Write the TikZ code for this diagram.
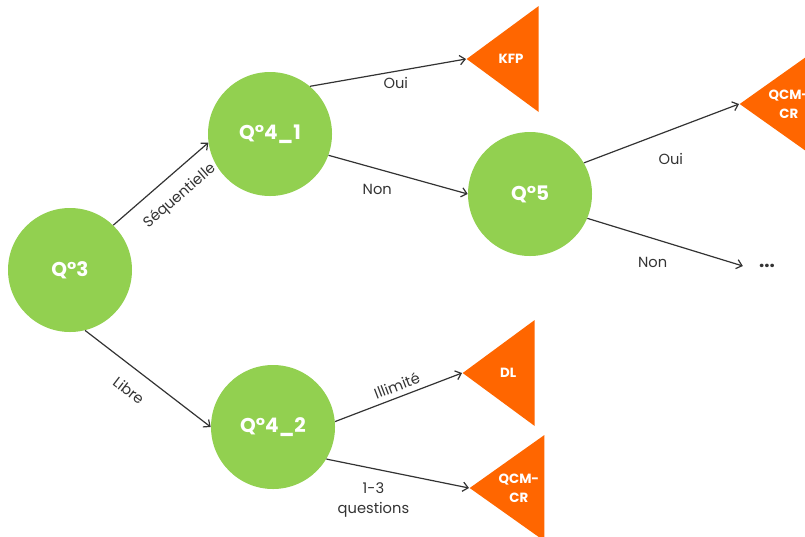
\documentclass[tikz,border=0pt]{standalone}
\usepackage{fontspec}
\setmainfont{Poppins}
\usepackage{tikz}
\usetikzlibrary{shapes.geometric, arrows.meta, positioning}
\definecolor{qgreen}{HTML}{92D050}
\definecolor{qorange}{HTML}{FF6600}
\definecolor{edgegray}{HTML}{333333}

\begin{document}
\begin{tikzpicture}[
    x=0.75pt, y=-0.75pt,
    question/.style={circle, fill=qgreen, minimum size=93pt, inner sep=0pt, text=white, font=\fontsize{15}{17}\selectfont\bfseries},
    result/.style={isosceles triangle, isosceles triangle stretches, shape border rotate=180, fill=qorange, minimum width=79.5pt, minimum height=54pt, inner sep=0pt, text=white, align=center, font=\fontsize{10}{14}\selectfont\bfseries},
    arrow/.style={-{Straight Barb[length=4pt, width=7pt]}, line width=0.9pt, draw=edgegray},
    choice/.style={font=\fontsize{11}{15}\selectfont, text=edgegray, inner sep=4pt}
]
\useasboundingbox (0,0) rectangle (805,536);

% questions
\node[question] (q3) at (70,270) {Q°3};
\node[question] (q41) at (270,134) {Q°4\_1};
\node[question] (q42) at (273,427) {Q°4\_2};
\node[question] (q5) at (530,194) {Q°5};

% results
\node[result, anchor=apex] (kfp) at (466,59) {KFP};
\node[result, anchor=apex] (qcm1) at (739,104) {QCM-\\CR};
\node[result, anchor=apex] (dl) at (462,373) {DL};
\node[result, anchor=apex] (qcm2) at (469,488) {QCM-\\CR};
\node[font=\fontsize{14}{14}\selectfont\bfseries, text=edgegray, inner sep=12pt] (more) at (767,266) {...};

\draw[arrow] (q3.46) -- node[choice, sloped, below=6pt, pos=0.55] {Séquentielle} (q41.188);
\draw[arrow] (q3.284) -- node[choice, sloped, below=7pt, pos=0.45] {Libre} (q42.180);
\draw[arrow] (q41.50) -- node[choice, below, pos=0.55] {Oui} (kfp.apex);
\draw[arrow] (q41.340) -- node[choice, below=7pt, pos=0.35] {Non} (q5.180);
\draw[arrow] (q5.30) -- node[choice, below=13pt, pos=0.56] {Oui} (qcm1.apex);
\draw[arrow] (q5.337) -- node[choice, below=10pt, pos=0.42] {Non} (more.west);
\draw[arrow] (q42.5) -- node[choice, sloped, above, pos=0.52] {Illimité} (dl.apex);
\draw[arrow] (q42.329) -- node[choice, below=6pt, pos=0.33, align=center] {1-3\\questions} (qcm2.apex);
\end{tikzpicture}
\end{document}
